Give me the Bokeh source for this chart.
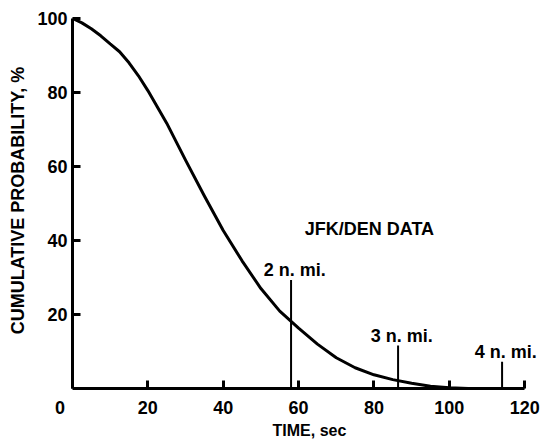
from bokeh.plotting import figure
from bokeh.models import Range1d, FixedTicker, Label
from bokeh.core.properties import value
from bokeh.embed import file_html
from bokeh.resources import INLINE

# Curve: cumulative probability (%) vs time (sec)
time_s = [0, 2.5, 5, 7.5, 10, 12.5, 15, 17.5, 20, 25, 30, 35, 40, 45, 50, 55, 60, 65, 70, 75,
          80, 85, 90, 95, 100, 105, 110, 120]
prob = [100, 98.8, 97.2, 95.3, 93.1, 91, 88, 84.5, 80.5, 71.7, 61.7, 52, 42.7, 34.5, 27, 20.9,
        16.3, 12, 8.3, 5.6, 3.7, 2.4, 1.4, 0.6, 0.2, 0, 0, 0]

# Distance markers
marker_t = [58, 86.4, 114]
marker_top = [29.3, 11.6, 7.2]
marker_labels = ["2 n. mi.", "3 n. mi.", "4 n. mi."]

x_ticks = [0, 20, 40, 60, 80, 100, 120]
y_ticks = [20, 40, 60, 80, 100]

FONT = "Liberation Sans"
NBSP = "\u00a0"

p = figure(width=545, height=441, output_backend="svg", toolbar_location=None,
           x_range=Range1d(0, 123.4), y_range=Range1d(0, 101.6),
           min_border_left=72, min_border_right=8, min_border_top=12, min_border_bottom=50)
p.outline_line_color = None
p.xgrid.visible = False
p.ygrid.visible = False
p.background_fill_color = "white"
p.border_fill_color = "white"

for ax in (p.xaxis[0], p.yaxis[0]):
    ax.axis_line_width = 3
    ax.axis_line_color = "black"
    ax.major_tick_line_width = 3
    ax.major_tick_line_color = "black"
    ax.major_tick_in = 8
    ax.major_tick_out = 0
    ax.minor_tick_line_color = None
    ax.major_label_text_font = FONT
    ax.major_label_text_font_style = "bold"
    ax.major_label_text_font_size = "18px"
    ax.major_label_text_color = "black"

p.xaxis.ticker = FixedTicker(ticks=x_ticks)
p.yaxis.ticker = FixedTicker(ticks=y_ticks)
p.xaxis.major_label_overrides = {0: "0" + NBSP * 5}
p.xaxis.bounds = (0, 120)
p.yaxis.bounds = (0, 100)
p.xaxis.major_label_standoff = 9
p.yaxis.major_label_standoff = 5

p.yaxis.axis_label = "CUMULATIVE PROBABILITY, %"
p.yaxis.axis_label_text_font = FONT
p.yaxis.axis_label_text_font_style = "bold"
p.yaxis.axis_label_text_font_size = "18px"
p.yaxis.axis_label_text_color = "black"
p.yaxis.axis_label_standoff = 6

p.xaxis.axis_label = NBSP * 2 + "TIME, sec"
p.xaxis.axis_label_text_font = FONT
p.xaxis.axis_label_text_font_style = "bold"
p.xaxis.axis_label_text_font_size = "16px"
p.xaxis.axis_label_text_color = "black"
p.xaxis.axis_label_standoff = 1

# curve
p.line(time_s, prob, line_width=3, line_color="black", line_join="round")

# markers
p.segment(x0=marker_t, y0=[0] * len(marker_t), x1=marker_t, y1=marker_top,
          line_width=2, line_color="black")
p.text(x=[t + 1.0 for t in marker_t], y=[v + 2.6 for v in marker_top], text=marker_labels,
       text_font=value(FONT), text_font_style="bold", text_font_size="18px",
       text_align="center", text_baseline="middle", text_color="black")

p.add_layout(Label(x=78.8, y=43.2, text="JFK/DEN DATA", text_font=FONT,
                   text_font_style="bold", text_font_size="18px",
                   text_align="center", text_baseline="middle", text_color="black"))

open("out.html", "w").write(file_html(p, INLINE))
